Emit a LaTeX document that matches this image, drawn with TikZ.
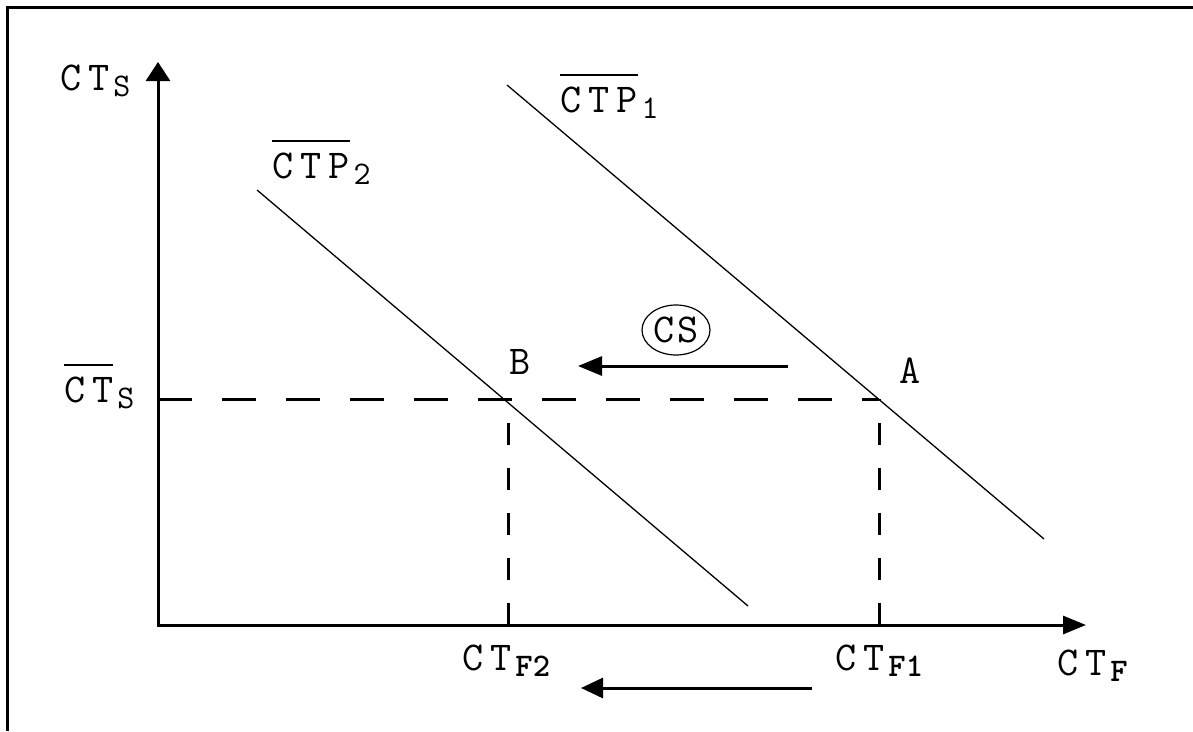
\documentclass[tikz,border=0pt]{standalone}
\usepackage{fontspec}
\usetikzlibrary{arrows.meta,shapes.geometric}
\newcommand\mainsz{\fontsize{41}{44}\selectfont\ttfamily}
\newcommand\subsz{\fontsize{33}{35}\selectfont\ttfamily}
\newcommand\ksp{\kern7pt}
\newcommand\subl[1]{\kern4pt\raisebox{-6pt}{\subsz #1}}
\newcommand\ovl[1]{\setbox0\hbox{#1}\rlap{\raisebox{36pt}{\rule{\wd0}{2.4pt}}}\box0}
\begin{document}
\begin{tikzpicture}[x=1pt,y=-1pt,
  frameline/.style={line width=3pt},
  axisline/.style={line width=3pt},
  dashline/.style={line width=3pt},
  ctpline/.style={line width=1.3pt},
  shiftarrow/.style={line width=3pt},
  lab/.style={inner sep=0pt, anchor=base west, font=\mainsz}]
\useasboundingbox[fill=white] (0,0) rectangle (1193,731);
% frame
\draw[frameline] (7,731) -- (7,7) -- (1193,7);
% coordinates
\coordinate (O) at (158,625);
\coordinate (ytop) at (158,62);
\coordinate (xend) at (1086,625);
\coordinate (A) at (879,399);
\coordinate (B) at (508,399);
\coordinate (Sy) at (158,399);
\coordinate (F1) at (879,625);
\coordinate (F2) at (508,625);
\coordinate (p1s) at (507,85);
\coordinate (p1e) at (1044,539);
\coordinate (p2s) at (257,190);
\coordinate (p2e) at (748,606);
\coordinate (csa) at (788,366);
\coordinate (csb) at (578,366);
\coordinate (bta) at (812,688);
\coordinate (btb) at (581,688);
% axes
\draw[axisline,-{Triangle[length=19pt,width=24pt]}] (O) -- (ytop);
\draw[axisline,-{Triangle[length=23pt,width=18pt]}] ([xshift=-1.5pt]O) -- (xend);
% dashed guides
\draw[dashline,dash pattern=on 34pt off 30pt] (Sy) -- (A);
\draw[dashline,dash pattern=on 22pt off 23pt] (F1) -- (A);
\draw[dashline,dash pattern=on 22pt off 23pt] (F2) -- (B);
% CTP lines
\draw[ctpline] (p1s) -- (p1e);
\draw[ctpline] (p2s) -- (p2e);
% shift arrows
\draw[shiftarrow,-{Triangle[length=24pt,width=19pt]}] (csa) -- (csb);
\draw[shiftarrow,-{Triangle[length=22pt,width=20pt]}] (bta) -- (btb);
% labels
\node[lab] (lcts) at (60,90) {C\ksp T\subl{S}};
\node[lab] (lctp1) at (560,112) {\ovl{C\ksp T\ksp P}\subl{1}};
\node[lab] (lctp2) at (272,178) {\ovl{C\ksp T\ksp P}\subl{2}};
\node[lab] (lctsbar) at (64,402) {\ovl{C\ksp T}\subl{S}};
\node[lab] (lB) at (509,374) {B};
\node[lab] (lA) at (899,383) {A};
\node[lab] (lf2) at (462,670) {C\ksp T\subl{\bfseries F2}};
\node[lab] (lf1) at (835,670) {C\ksp T\subl{\bfseries F1}};
\node[lab] (lf) at (1057,675) {C\ksp T\subl{\bfseries F}};
\node[ellipse, draw, line width=1.2pt, minimum width=68pt, minimum height=50pt, inner sep=0pt, font=\mainsz] (cs) at (676,330) {C\kern3pt S};
\end{tikzpicture}
\end{document}
